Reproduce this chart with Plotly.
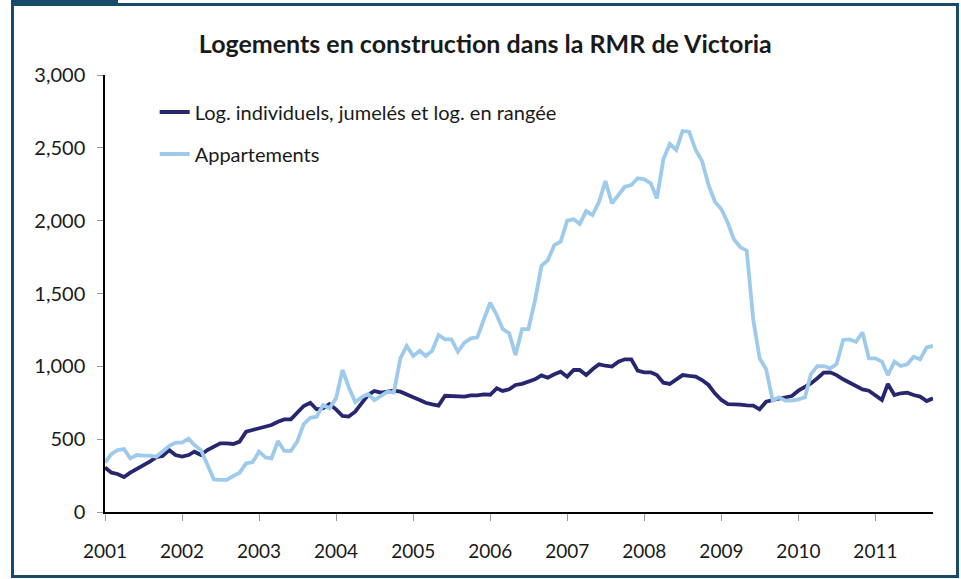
import pandas as pd
import plotly.graph_objects as go

title = "Logements en construction dans la RMR de Victoria"
series_names = ["Log. individuels, jumelés et log. en rangée", "Appartements"]
year_labels = ["2001", "2002", "2003", "2004", "2005", "2006", "2007", "2008", "2009", "2010", "2011"]
y_ticks = [0, 500, 1000, 1500, 2000, 2500, 3000]

# monthly values, Jan 2001 - Oct 2011
individuels = [
    305, 270, 261, 240, 270, 295, 323, 345, 377, 384, 425, 391,
    380, 391, 414, 391, 425, 448, 471, 471, 467, 483, 551, 563,
    574, 590, 597, 620, 636, 636, 677, 728, 750, 705, 712, 741,
    705, 659, 655, 689, 746, 803, 831, 819, 826, 833, 826, 810,
    787, 769, 750, 739, 730, 798, 798, 796, 792, 801, 801, 808,
    805, 849, 831, 842, 872, 880, 895, 911, 938, 922, 945, 963,
    929, 975, 975, 940, 980, 1014, 1004, 998, 1032, 1048, 1048, 970,
    959, 959, 940, 888, 879, 911, 940, 934, 929, 906, 872, 815,
    769, 741, 741, 737, 732, 730, 705, 757, 769, 776, 787, 796,
    833, 860, 883, 918, 957, 959, 940, 911, 888, 872, 842, 833,
    803, 769, 879, 803, 815, 819, 803, 792, 762, 780,
]
appartements = [
    340, 398, 425, 432, 368, 391, 387, 387, 380, 414, 453, 476,
    476, 503, 460, 425, 323, 224, 220, 220, 247, 270, 334, 341,
    414, 375, 368, 487, 419, 419, 483, 604, 647, 654, 734, 712,
    780, 975, 860, 753, 787, 810, 769, 796, 826, 819, 1055, 1140,
    1071, 1107, 1071, 1107, 1215, 1185, 1185, 1100, 1162, 1192, 1199, 1318,
    1437, 1352, 1256, 1227, 1078, 1256, 1256, 1450, 1690, 1728, 1833, 1856,
    2000, 2009, 1977, 2066, 2039, 2130, 2272, 2119, 2176, 2233, 2245, 2291,
    2284, 2256, 2153, 2421, 2526, 2485, 2616, 2611, 2485, 2410, 2245, 2130,
    2078, 1982, 1872, 1817, 1794, 1320, 1055, 980, 764, 787, 764, 764,
    773, 787, 947, 1002, 1002, 986, 1016, 1181, 1185, 1169, 1233, 1055,
    1055, 1032, 940, 1032, 1002, 1014, 1066, 1048, 1130, 1140,
]

dates = pd.date_range("2001-01-01", periods=len(individuels), freq="MS")
year_ticks = pd.to_datetime([y + "-01-01" for y in year_labels])

FONT = "Lato, 'Open Sans', sans-serif"
DARK = "#26276f"
LIGHT = "#9ecbeb"
FRAME = "#174a6b"

fig = go.Figure()
fig.add_trace(go.Scatter(x=dates, y=individuels, mode="lines", name=series_names[0],
                         line=dict(color=DARK, width=3.8), legendgroup="a"))
fig.add_trace(go.Scatter(x=dates, y=appartements, mode="lines", name=series_names[1],
                         line=dict(color=LIGHT, width=3.8), legendgroup="b"))

fig.update_layout(
    width=961, height=579,
    margin=dict(l=105, r=28, t=75, b=67),
    paper_bgcolor="white", plot_bgcolor="white",
    font=dict(family=FONT, color="#1a1a1a", size=20),
    title=dict(text="<b>" + title + "</b>", x=0.505, xanchor="center",
               y=1 - 44 / 579, yanchor="middle",
               font=dict(family=FONT, size=25, color="#1a1a1a")),
    showlegend=True,
    legend=dict(x=0.06, y=0.96, xanchor="left", yanchor="top",
                bgcolor="rgba(0,0,0,0)", font=dict(size=20, family=FONT),
                tracegroupgap=13, itemwidth=30),
    xaxis=dict(
        type="date",
        range=[dates[0], dates[-1]],
        tickvals=year_ticks, ticktext=year_labels,
        showgrid=False, zeroline=False,
        showline=True, linecolor="black", linewidth=1.5,
        ticks="outside", ticklen=7, tickcolor="#999999", tickwidth=1,
        ticklabelstandoff=14,
        tickfont=dict(size=19, family=FONT),
    ),
    yaxis=dict(
        range=[0, 3000],
        tickvals=y_ticks, tickformat=",d",
        showgrid=False, zeroline=False,
        showline=True, linecolor="black", linewidth=1.5,
        ticks="outside", ticklen=6, tickcolor="#999999", tickwidth=1,
        ticklabelstandoff=8,
        tickfont=dict(size=20, family=FONT),
    ),
)

# frame around the figure (paper coords derived from plot area 105..933 x 75..512)
def px(xp):
    return (xp - 105) / 828

def py(yp):
    return (512 - yp) / 437

fig.add_shape(type="rect", xref="paper", yref="paper",
              x0=px(12.5), x1=px(957.5), y0=py(576.5), y1=py(4.5),
              line=dict(color=FRAME, width=3), fillcolor="rgba(0,0,0,0)", layer="below")
fig.add_shape(type="rect", xref="paper", yref="paper",
              x0=px(11), x1=px(118), y0=py(6), y1=py(0),
              line=dict(width=0), fillcolor=FRAME, layer="below")

fig.write_html("out.html", config={"displayModeBar": False},
               post_script="document.body.style.margin='0px';document.body.style.overflow='hidden';")
